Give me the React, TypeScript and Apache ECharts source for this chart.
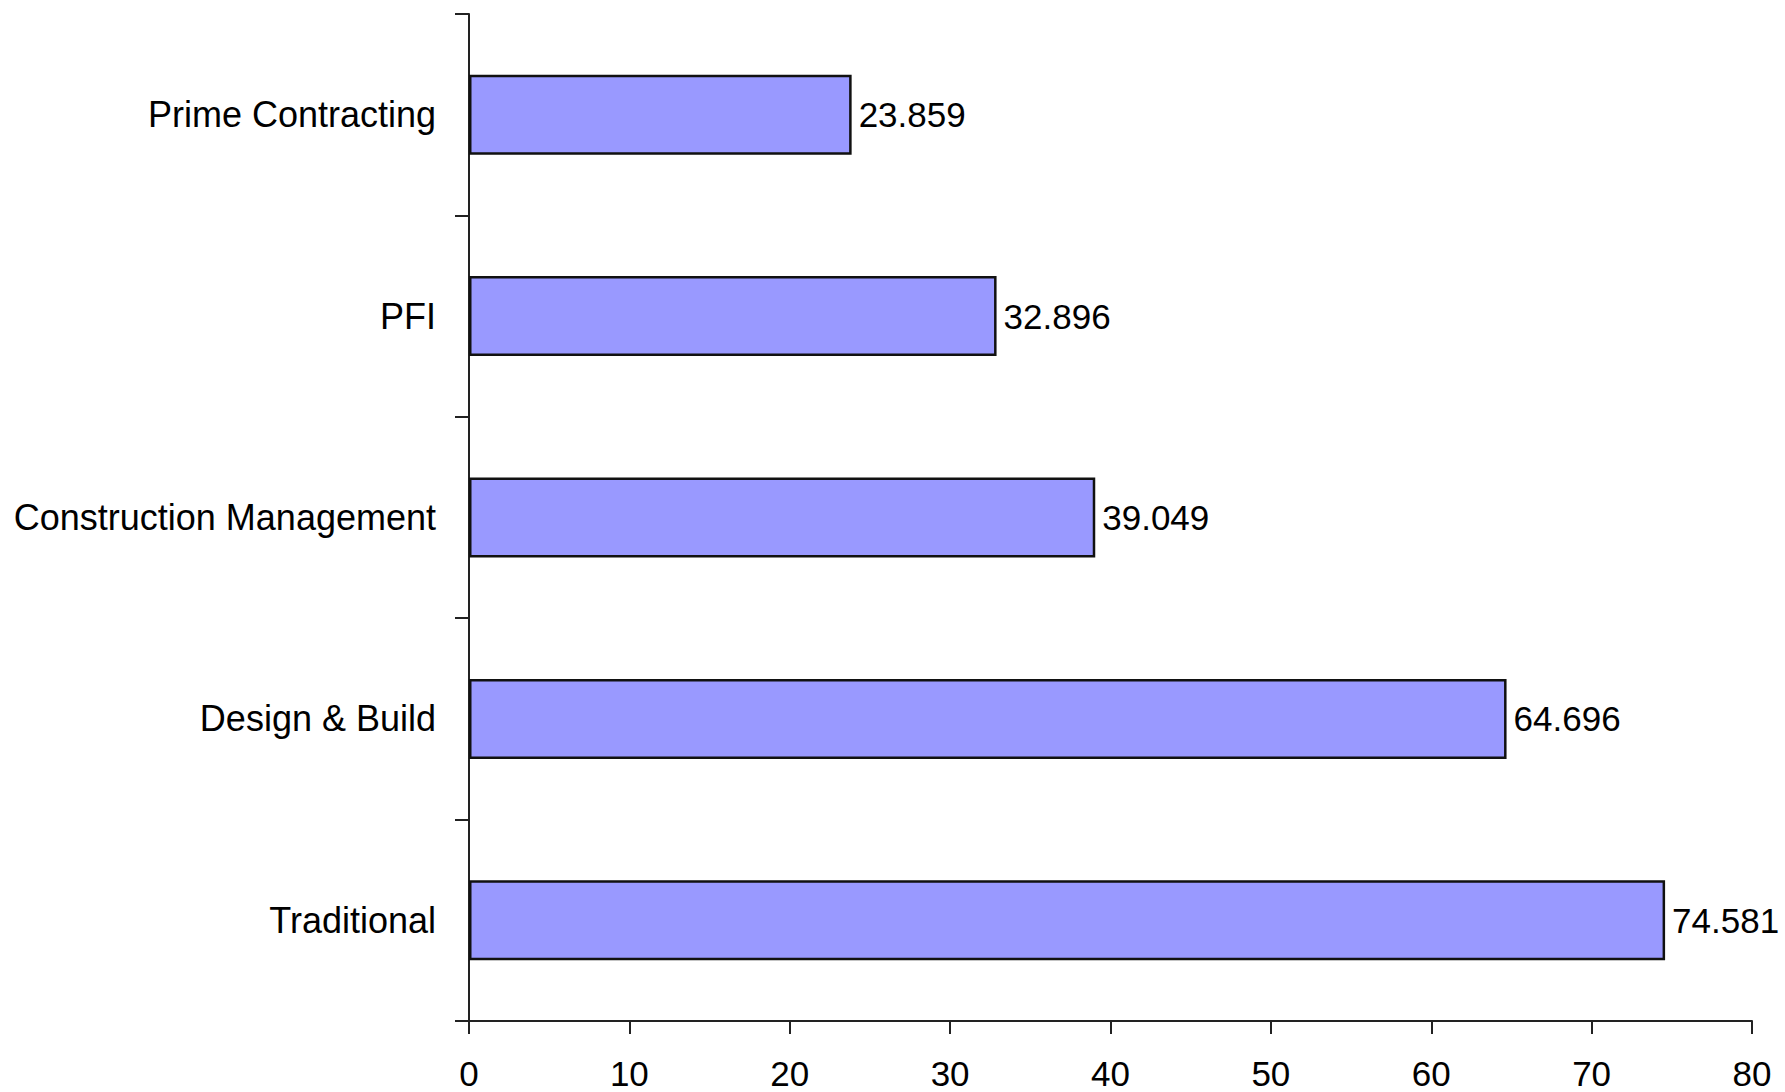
import React, { useEffect, useRef } from "react";
import * as echarts from "echarts";

const categories = ["Traditional", "Design & Build", "Construction Management", "PFI", "Prime Contracting"];
const values = [74.581, 64.696, 39.049, 32.896, 23.859];
const xTicks = { min: 0, max: 80, interval: 10 };

export default function App() {
  const ref = useRef<HTMLDivElement>(null);
  useEffect(() => {
    const chart = echarts.init(ref.current!, undefined, { renderer: "svg" });
    const font = "'Liberation Sans', Arial, sans-serif";
    chart.setOption({
      animation: false,
      backgroundColor: "#ffffff",
      grid: { left: 469, right: 33, top: 14, bottom: 71, containLabel: false },
      xAxis: {
        type: "value",
        min: xTicks.min,
        max: xTicks.max,
        interval: xTicks.interval,
        axisLine: { show: true, lineStyle: { color: "#222", width: 2 } },
        axisTick: { show: true, length: 13, lineStyle: { color: "#222", width: 2 } },
        splitLine: { show: false },
        axisLabel: { color: "#000", fontSize: 35, fontFamily: font, margin: 35 },
      },
      yAxis: {
        type: "category",
        data: categories,
        axisLine: { show: true, lineStyle: { color: "#222", width: 2 } },
        axisTick: { show: true, length: 14, lineStyle: { color: "#222", width: 2 } },
        splitLine: { show: false },
        axisLabel: { color: "#000", fontSize: 36, fontFamily: font, margin: 33 },
      },
      series: [
        {
          type: "bar",
          data: values,
          barWidth: 80,
          itemStyle: { color: "#9999FF", borderColor: "#111", borderWidth: 2.5 },
          label: {
            show: true,
            position: "right",
            distance: 7,
            color: "#000",
            fontSize: 35,
            fontFamily: font,
            formatter: (p: any) => p.value.toFixed(3),
          },
        },
      ],
    });
    return () => chart.dispose();
  }, []);
  return <div ref={ref} style={{ position: "absolute", left: 0, top: 0, width: 1785, height: 1092 }} />;
}
